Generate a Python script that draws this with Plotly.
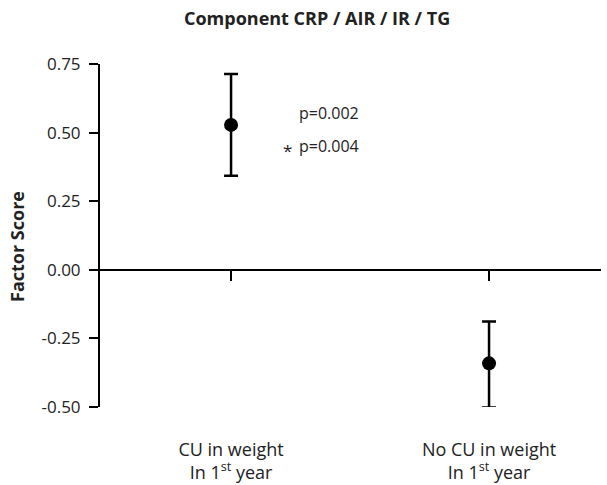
import plotly.graph_objects as go

# ---- data ----
categories = ["CU in weight<br>In 1<sup>st</sup> year", "No CU in weight<br>In 1<sup>st</sup> year"]
means = [0.528, -0.341]
err_plus = [0.186, 0.153]
err_minus = [0.185, 0.161]
y_tickvals = [0.75, 0.50, 0.25, 0.00, -0.25, -0.50]
y_ticktext = ["0.75", "0.50", "0.25", "0.00", "-0.25", "-0.50"]
p_text_1 = "p=0.002"
p_text_2 = "p=0.004"
star_text = "*"
title_text = "<b>Component CRP / AIR / IR / TG</b>"
ytitle_text = "<b>Factor Score</b>"

# ---- layout geometry ----
W, H = 607, 485
ml, mr, mt, mb = 100, 6, 64, 78
ymin, ymax = -0.5, 0.75
x_pos = list(range(len(categories)))
xr = [-0.508, 1.434]
FONT = "Open Sans"
TXT = "#222222"

def px_x(px):
    return (px - ml) / (W - ml - mr)

def px_y(py):
    return (H - mb - py) / (H - mt - mb)

fig = go.Figure()
fig.add_trace(go.Scatter(
    x=x_pos, y=means, mode="markers",
    marker=dict(size=14, color="black"),
    error_y=dict(type="data", symmetric=False, array=err_plus, arrayminus=err_minus,
                 color="black", thickness=2.5, width=7),
    showlegend=False, cliponaxis=False,
))
fig.add_trace(go.Scatter(x=[], y=[], xaxis="x2", showlegend=False))

zero_pos = (0 - ymin) / (ymax - ymin)

fig.update_layout(
    width=W, height=H,
    margin=dict(l=ml, r=mr, t=mt, b=mb, autoexpand=False),
    paper_bgcolor="white", plot_bgcolor="white",
    font=dict(family=FONT, color=TXT),
    xaxis=dict(
        range=xr, tickvals=x_pos, ticktext=categories, automargin=False,
        showline=False, showgrid=False, zeroline=False,
        ticks="outside", ticklen=26, tickcolor="rgba(0,0,0,0)",
        tickfont=dict(size=18, family=FONT, color=TXT),
    ),
    xaxis2=dict(
        overlaying="x", anchor="free", position=zero_pos, automargin=False,
        range=xr, tickvals=x_pos, showticklabels=False,
        showline=True, linecolor="black", linewidth=1.5,
        ticks="outside", ticklen=10, tickwidth=1.5, tickcolor="black",
        showgrid=False, zeroline=False,
    ),
    yaxis=dict(
        range=[ymin, ymax], tickvals=y_tickvals, ticktext=y_ticktext, automargin=False,
        showline=True, linecolor="black", linewidth=2,
        ticks="outside", ticklen=9, tickwidth=2, tickcolor="black",
        ticklabelstandoff=5,
        showgrid=False, zeroline=False,
        tickfont=dict(size=17, family=FONT, color=TXT),
    ),
    annotations=[
        dict(text=title_text, xref="paper", yref="paper", x=px_x(317), y=px_y(18),
             showarrow=False, xanchor="center", yanchor="middle",
             font=dict(size=18, family=FONT, color=TXT)),
        dict(text=ytitle_text, xref="paper", yref="paper", x=px_x(17), y=px_y(247),
             showarrow=False, xanchor="center", yanchor="middle", textangle=-90,
             font=dict(size=18, family=FONT, color=TXT)),
        dict(text=p_text_1, xref="paper", yref="paper", x=px_x(297), y=px_y(113),
             showarrow=False, xanchor="left", yanchor="middle",
             font=dict(size=16, family=FONT, color=TXT)),
        dict(text=p_text_2, xref="paper", yref="paper", x=px_x(297), y=px_y(146),
             showarrow=False, xanchor="left", yanchor="middle",
             font=dict(size=16, family=FONT, color=TXT)),
        dict(text=star_text, xref="paper", yref="paper", x=px_x(287), y=px_y(150),
             showarrow=False, xanchor="center", yanchor="middle",
             font=dict(size=17, family=FONT, color=TXT)),
    ],
)

fig.write_html("out.html")
